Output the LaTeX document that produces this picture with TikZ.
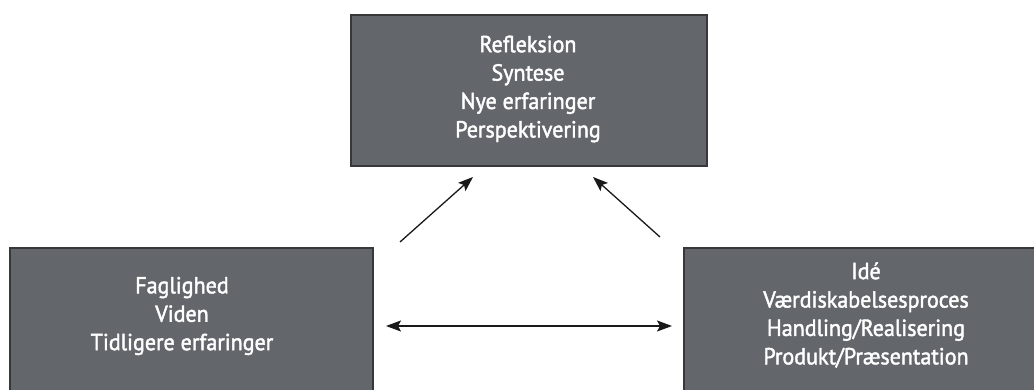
\documentclass[tikz,border=0pt]{standalone}
\usepackage{fontspec}
\setmainfont{PT Sans}[FakeStretch=0.95,FakeBold=1.8,BoldFont={PT Sans}]
\usetikzlibrary{arrows.meta}
\definecolor{boxfill}{HTML}{63676B}
\definecolor{boxline}{HTML}{38383B}
\tikzset{
  panel/.style={draw=boxline, line width=2pt, fill=boxfill, inner sep=0pt},
  paneltext/.style={text=white, align=center, font=\fontsize{23.2}{28.4}\selectfont\bfseries, inner sep=0pt},
  conn/.style={line width=1.3pt, draw=black!90, -{Stealth[length=15pt,width=11pt,inset=3pt]}},
  bothconn/.style={line width=1.3pt, draw=black!90, {Stealth[length=15pt,width=11pt,inset=3pt]}-{Stealth[length=15pt,width=11pt,inset=3pt]}}
}
\begin{document}
\begin{tikzpicture}[x=1pt,y=-1pt]
\useasboundingbox (0,0) rectangle (1034,390);
\clip (0,0) rectangle (1034,390);
% boxes
\node[panel, minimum width=356pt, minimum height=151pt] (top) at (529,90.5) {};
\node[panel, minimum width=363pt, minimum height=160pt] (left) at (191.5,328) {};
\node[panel, minimum width=352pt, minimum height=160pt] (right) at (860,328) {};
% texts
\node[paneltext] (toptext) at (528,89) {Refleksion\\Syntese\\Nye erfaringer\\Perspektivering};
\node[paneltext] (lefttext) at (182,316) {Faglighed\\Viden\\Tidligere erfaringer};
\node[paneltext] (righttext) at (866,315) {Idé\\Værdiskabelsesproces\\Handling/Realisering\\Produkt/Præsentation};
% connector ends
\coordinate (la) at (400,242);
\coordinate (lb) at (473,177);
\coordinate (ra) at (660,237);
\coordinate (rb) at (593,177);
\coordinate (ha) at (386,326);
\coordinate (hb) at (672,326);
\draw[conn] (la) -- (lb);
\draw[conn] (ra) -- (rb);
\draw[bothconn] (ha) -- (hb);
\end{tikzpicture}
\end{document}
